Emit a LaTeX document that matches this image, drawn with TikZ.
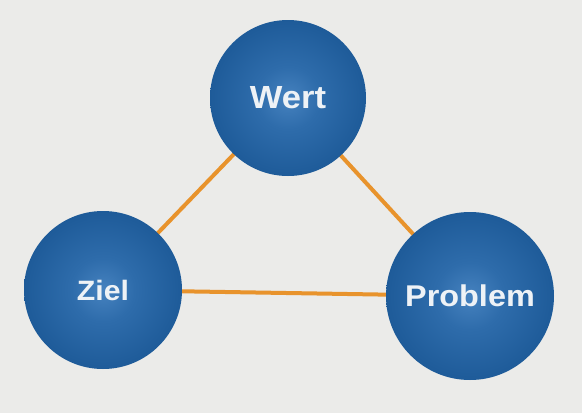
\documentclass[tikz,border=0pt]{standalone}
\usepackage{fontspec}
\newfontfamily\labfont[FakeStretch=1.08]{Liberation Sans Bold}
\definecolor{paper}{HTML}{EBEBE9}
\definecolor{ballc0}{HTML}{4682BF}
\definecolor{ballc1}{HTML}{2E6CAB}
\definecolor{ballc2}{HTML}{1E5B99}
\definecolor{labwhite}{HTML}{EEF2F6}
\definecolor{linkorange}{HTML}{E8932C}
\pgfdeclareradialshading{ballshade}{\pgfpoint{0bp}{0bp}}{%
  color(0bp)=(ballc0); color(10bp)=(ballc1); color(25bp)=(ballc2); color(50bp)=(ballc2)}
\tikzset{
  ball/.style={circle, draw=none, shading=ballshade,
    text=labwhite, font=\labfont, inner sep=0pt},
  link/.style={draw=linkorange, line width=4pt}
}
\begin{document}
\begin{tikzpicture}[x=1pt, y=-1pt]
  \fill[paper] (0,0) rectangle (582,413);
  \useasboundingbox (0,0) rectangle (582,413);
  \coordinate (cW) at (288,98);
  \coordinate (cZ) at (103,290);
  \coordinate (cP) at (470,296);
  \draw[link] (cW) -- (cZ);
  \draw[link] (cW) -- (cP);
  \draw[link] (cZ) -- (cP);
  \node[ball, minimum size=156pt, font=\labfont\fontsize{32}{38}\selectfont] (W) at (cW) {Wert};
  \node[ball, minimum size=158pt, font=\labfont\fontsize{28}{34}\selectfont] (Z) at (cZ) {Ziel};
  \node[ball, minimum size=168pt, font=\labfont\fontsize{30}{36}\selectfont] (P) at (cP) {Problem};
\end{tikzpicture}
\end{document}
